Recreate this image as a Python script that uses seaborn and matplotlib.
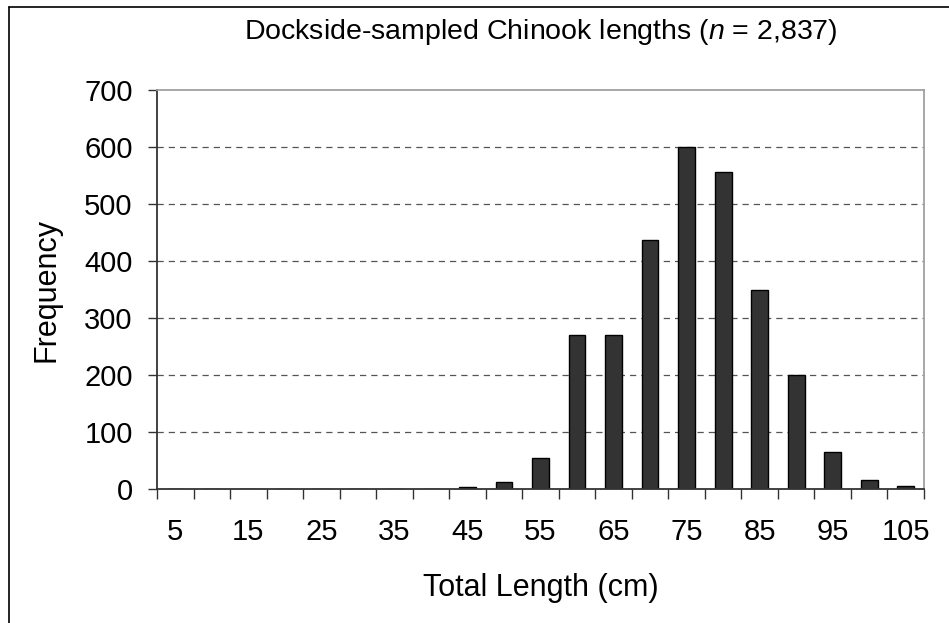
import numpy as np
import matplotlib
matplotlib.use("Agg")
import matplotlib.pyplot as plt
from matplotlib.lines import Line2D
import seaborn as sns
import pandas as pd

# length classes (cm) and fish counts
lengths = [5, 10, 15, 20, 25, 30, 35, 40, 45, 50, 55, 60, 65, 70, 75, 80, 85, 90, 95, 100, 105]
counts = [0, 0, 0, 0, 0, 0, 0, 0, 4, 12, 54, 270, 270, 436, 600, 557, 349, 200, 65, 15, 6]
y_ticks = [0, 100, 200, 300, 400, 500, 600, 700]

sns.set_style("white")
plt.rcParams['font.family'] = ['Liberation Sans', 'DejaVu Sans']
plt.rcParams['mathtext.fontset'] = 'custom'
plt.rcParams['mathtext.rm'] = 'Liberation Sans'
plt.rcParams['mathtext.it'] = 'Liberation Sans:italic'
plt.rcParams['text.color'] = 'black'
plt.rcParams['axes.labelcolor'] = 'black'
plt.rcParams['xtick.labelcolor'] = 'black'
plt.rcParams['ytick.labelcolor'] = 'black'

df = pd.DataFrame({'length': [str(v) for v in lengths], 'count': counts})

fig = plt.figure(figsize=(9.49, 6.23), dpi=100)
ax = fig.add_axes([157 / 949, 1 - 489 / 623, (924 - 157) / 949, (489 - 90) / 623])

sns.barplot(data=df, x='length', y='count', order=df['length'], color='#333333',
            saturation=1, width=0.46, edgecolor='black', linewidth=1.0, ax=ax)

ax.set_xlim(-0.5, len(lengths) - 0.5)
ax.set_ylim(0, 700)
ax.set_yticks(y_ticks)

for v in y_ticks[1:-1]:
    ax.axhline(v, color='#555555', lw=0.9, ls=(0, (5, 4)), zorder=0)

# labels on every other class, tick marks on class boundaries
ax.set_xticks(range(0, len(lengths), 2))
ax.set_xticklabels([str(v) for v in lengths[::2]])
ax.set_xticks(np.arange(-0.5, len(lengths), 1), minor=True)
ax.tick_params(axis='x', which='major', length=0, pad=21, labelsize=21, labelcolor='black')
ax.tick_params(axis='x', which='minor', length=7, width=1.0, color='#333333', direction='out', bottom=True)
ax.tick_params(axis='y', length=6.5, width=1.0, color='#333333', pad=11, labelsize=21, left=True, labelcolor='black')

for side in ['left', 'bottom']:
    ax.spines[side].set_color('#333333')
    ax.spines[side].set_linewidth(1.3)
for side in ['top', 'right']:
    ax.spines[side].set_color('#a0a0a0')
    ax.spines[side].set_linewidth(1.3)

ax.set_xlabel('Total Length (cm)', fontsize=22, labelpad=19, color='black')
ax.set_ylabel('Frequency', fontsize=22, labelpad=16, color='black')
ax.set_title('Dockside-sampled Chinook lengths ($n$ = 2,837)', fontsize=20.5, pad=37, color='black')

# chart frame (only top and left edges fall inside the image)
fig.add_artist(Line2D([9 / 949, 1], [1 - 7 / 623, 1 - 7 / 623], color='black', lw=1.2, transform=fig.transFigure))
fig.add_artist(Line2D([9 / 949, 9 / 949], [0, 1 - 7 / 623], color='black', lw=1.2, transform=fig.transFigure))

fig.savefig('out.png', dpi=100)
